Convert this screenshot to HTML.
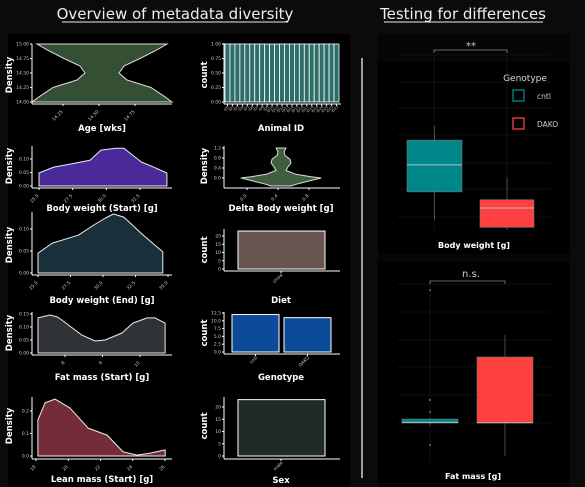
<!DOCTYPE html>
<html><head><meta charset="utf-8">
<style>
html,body{margin:0;padding:0;background:#0b0b0b;width:585px;height:487px;overflow:hidden}
svg{display:block}
text{font-family:"DejaVu Sans","Liberation Sans",sans-serif}
</style></head>
<body>
<svg id="root" width="585" height="487" viewBox="0 0 585 487" xmlns="http://www.w3.org/2000/svg">
<rect x="0" y="0" width="585" height="487" fill="#0b0b0b"/>
<rect x="8" y="34" width="342" height="453" fill="#000"/>
<rect x="378" y="34" width="192" height="453" fill="#050505"/>
<rect x="378" y="62" width="192" height="192" fill="#000"/>
<rect x="378" y="262" width="192" height="220" fill="#000"/>
<line x1="362" y1="58" x2="362" y2="478" stroke="#fff" stroke-width="1.2"/>
<text x="175" y="19" fill="#eee" font-size="15" text-anchor="middle">Overview of metadata diversity</text>
<line x1="62" y1="22" x2="288" y2="22" stroke="#eee" stroke-width="1"/>
<text x="463" y="19" fill="#eee" font-size="15" text-anchor="middle">Testing for differences</text>
<line x1="384" y1="22" x2="543" y2="22" stroke="#eee" stroke-width="1"/>
</svg>
<script>
// ---------- data ----------
const ageValues=[15,14.9,14.75,14.62,14.5,14.38,14.25,14.1,14.0];
const ageHalfWidth=[65,55,38,22,17,25,49,62,70];
const ageTicksY=["14.00","14.25","14.50","14.75","15.00"];
const ageTicksX=["14.25","14.50","14.75"];
const animalCounts=[1,1,1,1,1,1,1,1,1,1,1,1,1,1,1,1,1,1,1,1,1,1,1];
const bwStartX=[25,26.1,27.7,28.8,29.6,30.7,31.3,32.6,33.5,34.5];
const bwStartD=[0.048,0.07,0.085,0.096,0.133,0.14,0.14,0.089,0.07,0.048];
const bwEndX=[25,26.1,28.1,29.3,30.2,30.8,31.6,33.1,34.6];
const bwEndD=[0.045,0.068,0.086,0.109,0.125,0.134,0.127,0.086,0.048];
const deltaValues=[1.2,1.05,0.9,0.75,0.6,0.45,0.3,0.15,0.05,0.0,-0.1,-0.25,-0.32];
const deltaHalf=[5,3,4,9,10,7,5,15,30,40,30,15,10];
const dietCounts=[23];
const fatX=[7.28,7.6,7.81,8.45,8.8,9.07,9.52,9.81,10.19,10.4,10.67];
const fatD=[0.135,0.146,0.138,0.069,0.046,0.05,0.077,0.115,0.135,0.135,0.115];
const genoCats=["cntl","DAKO"];
const genoCounts=[12,11];
const leanX=[18.12,18.56,19.18,20.11,21.23,22.41,23.4,24.27,25.08,26.01];
const leanD=[0.16,0.236,0.253,0.213,0.124,0.093,0.018,0.004,0.013,0.027];
const sexCounts=[23];
// box stats: [low, q1, median, q3, high]
const bwBoxCntl=[25,27.5,29.9,32.1,33.4];
const bwBoxDako=[24.1,24.35,26.07,26.8,28.8];
const fatBoxCntl=[6.45,6.59,6.62,6.78,6.85];
const fatBoxDako=[5,6.6,6.6,9.77,10.83];
const fatOutliersCntl=[13,7.7,7.12,5.53];

const NS="http://www.w3.org/2000/svg";
const root=document.getElementById('root');
function mk(tag,attrs,name,parent){
  const el=document.createElementNS(NS,tag);
  for(const k in attrs) el.setAttribute(k,attrs[k]);
  
  
  (parent||root).appendChild(el);
  return el;
}
function txt(x,y,s,size,name,opts){
  opts=opts||{};
  const t=mk('text',{x:x,y:y,fill:opts.fill||'#fff','font-size':size,'text-anchor':opts.anchor||'middle','font-weight':opts.weight||'normal'},name);
  if(opts.rot!==undefined) t.setAttribute('transform','rotate('+opts.rot+' '+x+' '+y+')');
  t.textContent=s;return t;
}
function lin(a,b,c,d,name,col,w){return mk('line',{x1:a,y1:b,x2:c,y2:d,stroke:col||'#fff','stroke-width':w||1},name);}
function axesL(x0,y0,x1,y1,name){lin(x0,y0,x0,y1,name+'-y-axis');lin(x0,y1,x1,y1,name+'-x-axis');}
function yTicks(x0,labels,scale,vals,name){
  labels.forEach((l,i)=>{const y=scale(vals[i]);lin(x0-2,y,x0,y,name+'-ytick');txt(x0-3,y+1.5,l,4.5,name+'-ytick-label',{anchor:'end',fill:'#ccc'});});
}
function xTicks(y0,labels,scale,vals,name){
  labels.forEach((l,i)=>{const x=scale(vals[i]);lin(x,y0,x,y0+2,name+'-xtick');txt(x,y0+8,l,4.5,name+'-xtick-label',{anchor:'end',fill:'#ccc',rot:-45});});
}
function lsc(d0,d1,r0,r1){return v=>r0+(v-d0)/(d1-d0)*(r1-r0);}
function density(xs,ds,sx,sy,fill,name){
  let p='M'+sx(xs[0])+','+sy(0);
  xs.forEach((x,i)=>{p+=' L'+sx(x).toFixed(1)+','+sy(ds[i]).toFixed(1);});
  p+=' L'+sx(xs[xs.length-1])+','+sy(0)+' Z';
  mk('path',{d:p,fill:fill,stroke:'#eee','stroke-width':1,'stroke-linejoin':'round'},name);
}

// ---- Age violin ----
{const sy=lsc(14,15,102,44);const cx=102;
 let L='',R='';ageValues.forEach((v,i)=>{L+=(i?' L':'M')+(cx-ageHalfWidth[i])+','+sy(v).toFixed(1);});
 for(let i=ageValues.length-1;i>=0;i--)R+=' L'+(cx+ageHalfWidth[i])+','+sy(ageValues[i]).toFixed(1);
 mk('path',{d:L+R+' Z',fill:'#344f33',stroke:'#ddd','stroke-width':1},'age-violin');
 axesL(32,44,172,104,'age');
 yTicks(32,ageTicksY,sy,[14,14.25,14.5,14.75,15],'age');
 const sx=lsc(14.25,14.75,63,135);xTicks(104,ageTicksX,sx,[14.25,14.5,14.75],'age');
 txt(102,131,'Age [wks]',8.5,'age-x-title',{weight:'bold'});
 txt(12,75,'Density',8.5,'age-y-title',{rot:-90,weight:'bold'});}

// ---- Animal ID bars ----
{const sy=lsc(0,1,102,44);const x0=225,x1=339;const bw=(x1-x0)/animalCounts.length;
 animalCounts.forEach((c,i)=>{mk('rect',{x:x0+i*bw,y:sy(c),width:bw,height:sy(0)-sy(c),fill:'#2e6e68',stroke:'#fff','stroke-width':0.8},'animal-bar');
   lin(x0+(i+.5)*bw,104,x0+(i+.5)*bw,106,'animal-xtick');
   txt(x0+(i+.5)*bw+2,107,'ID'+(i+1),3.5,'animal-xtick-label',{anchor:'end',fill:'#ccc',rot:-45});});
 axesL(224,43,341,104,'animal');
 yTicks(224,["0.00","0.25","0.50","0.75","1.00"],sy,[0,0.25,0.5,0.75,1],'animal');
 txt(281,131,'Animal ID',8.5,'animal-x-title',{weight:'bold'});
 txt(207,75,'count',8.5,'animal-y-title',{rot:-90,weight:'bold'});}

// ---- Body weight start ----
{const sx=lsc(25,32.5,39,140),sy=lsc(0,0.1,186,159);
 density(bwStartX,bwStartD,sx,sy,'#4a2a9a','bw-start-density');
 axesL(32,146,172,188,'bw-start');
 yTicks(32,["0.00","0.05","0.10"],sy,[0,0.05,0.1],'bw-start');
 xTicks(188,["25.0","27.5","30.0","32.5"],sx,[25,27.5,30,32.5],'bw-start');
 txt(102,211,'Body weight (Start) [g]',8.5,'bw-start-x-title',{weight:'bold'});
 txt(12,166,'Density',8.5,'bw-start-y-title',{rot:-90,weight:'bold'});}

// ---- Delta violin ----
{const sy=lsc(0,1.2,178,148);const cx=281;
 let L='',R='';deltaValues.forEach((v,i)=>{L+=(i?' L':'M')+(cx-deltaHalf[i])+','+sy(v).toFixed(1);});
 for(let i=deltaValues.length-1;i>=0;i--)R+=' L'+(cx+deltaHalf[i])+','+sy(deltaValues[i]).toFixed(1);
 mk('path',{d:L+R+' Z',fill:'#3f5e3f',stroke:'#ddd','stroke-width':1,'stroke-linejoin':'round'},'delta-violin');
 axesL(224,146,340,188,'delta');
 yTicks(224,["0.0","0.4","0.8","1.2"],sy,[0,0.4,0.8,1.2],'delta');
 const sx=lsc(0,0.8,247,309);xTicks(188,["0.0","0.4","0.8"],sx,[0,0.4,0.8],'delta');
 txt(281,211,'Delta Body weight [g]',8.5,'delta-x-title',{weight:'bold'});
 txt(207,166,'Density',8.5,'delta-y-title',{rot:-90,weight:'bold'});}

// ---- Body weight end ----
{const sx=lsc(25,35,38,168),sy=lsc(0,0.1,273,229);
 density(bwEndX,bwEndD,sx,sy,'#19303a','bw-end-density');
 axesL(32,212,172,275,'bw-end');
 yTicks(32,["0.00","0.05","0.10"],sy,[0,0.05,0.1],'bw-end');
 xTicks(275,["25.0","27.5","30.0","32.5","35.0"],sx,[25,27.5,30,32.5,35],'bw-end');
 txt(102,303,'Body weight (End) [g]',8.5,'bw-end-x-title',{weight:'bold'});
 txt(12,245,'Density',8.5,'bw-end-y-title',{rot:-90,weight:'bold'});}

// ---- Diet ----
{const sy=lsc(0,20,269,236);
 dietCounts.forEach((c,i)=>mk('rect',{x:238,y:sy(c),width:87,height:sy(0)-sy(c),fill:'#6a5450',stroke:'#fff','stroke-width':1},'diet-bar'));
 axesL(224,229,340,271,'diet');
 yTicks(224,["0","5","10","15","20"],sy,[0,5,10,15,20],'diet');
 lin(281,271,281,273,'diet-xtick');txt(283,275,'chow',4.5,'diet-xtick-label',{anchor:'end',fill:'#ccc',rot:-45});
 txt(281,303,'Diet',8.5,'diet-x-title',{weight:'bold'});
 txt(207,250,'count',8.5,'diet-y-title',{rot:-90,weight:'bold'});}

// ---- Fat mass start ----
{const sx=lsc(8,10,65,140),sy=lsc(0,0.15,353,314);
 density(fatX,fatD,sx,sy,'#303335','fat-start-density');
 axesL(32,312,172,355,'fat-start');
 yTicks(32,["0.00","0.05","0.10","0.15"],sy,[0,0.05,0.1,0.15],'fat-start');
 xTicks(355,["8","9","10"],sx,[8,9,10],'fat-start');
 txt(102,380,'Fat mass (Start) [g]',8.5,'fat-start-x-title',{weight:'bold'});
 txt(12,333,'Density',8.5,'fat-start-y-title',{rot:-90,weight:'bold'});}

// ---- Genotype ----
{const sy=lsc(0,12.5,352,313);
 genoCounts.forEach((c,i)=>{const x=232+i*52;mk('rect',{x:x,y:sy(c),width:47,height:sy(0)-sy(c),fill:'#0c4a9a',stroke:'#fff','stroke-width':1},'genotype-bar-'+genoCats[i]);
   lin(x+23.5,354,x+23.5,356,'genotype-xtick');txt(x+25.5,358,genoCats[i],4.5,'genotype-xtick-label',{anchor:'end',fill:'#ccc',rot:-45});});
 axesL(224,312,340,354,'genotype');
 yTicks(224,["0.0","2.5","5.0","7.5","10.0","12.5"],sy,[0,2.5,5,7.5,10,12.5],'genotype');
 txt(281,380,'Genotype',8.5,'genotype-x-title',{weight:'bold'});
 txt(207,333,'count',8.5,'genotype-y-title',{rot:-90,weight:'bold'});}

// ---- Lean mass ----
{const sx=lsc(18,26,36,165),sy=lsc(0,0.2,456,411);
 density(leanX,leanD,sx,sy,'#742c3a','lean-density');
 axesL(32,397,172,459,'lean');
 yTicks(32,["0.0","0.1","0.2"],sy,[0,0.1,0.2],'lean');
 xTicks(459,["18","20","22","24","26"],sx,[18,20,22,24,26],'lean');
 txt(102,482,'Lean mass (Start) [g]',8.5,'lean-x-title',{weight:'bold'});
 txt(12,426,'Density',8.5,'lean-y-title',{rot:-90,weight:'bold'});}

// ---- Sex ----
{const sy=lsc(0,20,456,407);
 sexCounts.forEach(c=>mk('rect',{x:238,y:sy(c),width:87,height:sy(0)-sy(c),fill:'#1e2b26',stroke:'#fff','stroke-width':1},'sex-bar'));
 axesL(224,397,340,459,'sex');
 yTicks(224,["0","5","10","15","20"],sy,[0,5,10,15,20],'sex');
 lin(281,459,281,461,'sex-xtick');txt(283,463,'male',4.5,'sex-xtick-label',{anchor:'end',fill:'#ccc',rot:-45});
 txt(281,483,'Sex',8.5,'sex-x-title',{weight:'bold'});
 txt(207,426,'count',8.5,'sex-y-title',{rot:-90,weight:'bold'});}

// ---- Box plots ----
function box(st,x0,w,sy,fill,name){
  const cx=x0+w/2;
  lin(cx,sy(st[0]),cx,sy(st[1]),name+'-whisker-low','#777',0.6);
  lin(cx,sy(st[3]),cx,sy(st[4]),name+'-whisker-high','#777',0.6);
  mk('rect',{x:x0,y:sy(st[3]),width:w,height:Math.max(1,sy(st[1])-sy(st[3])),fill:fill,stroke:'#777','stroke-width':0.6},name+'-box');
  lin(x0,sy(st[2]),x0+w,sy(st[2]),name+'-median','#bbb',1);
}
{const sy=lsc(25,33,220,130);
 [55,82,108,135,163,189,217].forEach(y=>lin(397,y,550,y,'bw-gridline','#1c1c1c',0.6));
 [434,507].forEach(x=>lin(x,55,x,230,'bw-vgridline','#1c1c1c',0.6));
 box(bwBoxCntl,407,55,sy,'#00878a','bw-box-cntl');
 box(bwBoxDako,480,54,sy,'#ff4040','bw-box-dako');
 mk('path',{d:'M434,53 L434,50 L507,50 L507,53',fill:'none',stroke:'#888','stroke-width':0.8},'bw-significance-bracket');
 txt(471,49,'**',10,'bw-significance-label',{fill:'#ccc'});
 txt(474,248,'Body weight [g]',8,'bw-box-title',{weight:'bold'});
 txt(525,81,'Genotype',9,'legend-title',{fill:'#ddd'});
 mk('rect',{x:513,y:90,width:11,height:11,fill:'none',stroke:'#00878a','stroke-width':1.3},'legend-swatch-cntl');
 mk('rect',{x:513,y:118,width:11,height:11,fill:'none',stroke:'#ff4040','stroke-width':1.3},'legend-swatch-dako');
 txt(537,99,'cntl',7.5,'legend-label-cntl',{anchor:'start',fill:'#ccc'});
 txt(537,127,'DAKO',7.5,'legend-label-dako',{anchor:'start',fill:'#ccc'});}
{const sy=lsc(5,13,456,290);
 [284,312,340,367,395,423].forEach(y=>lin(397,y,550,y,'fat-gridline','#1c1c1c',0.6));
 lin(430,284,430,462,'fat-vgridline','#1c1c1c',0.6);
 box(fatBoxCntl,402,56,sy,'#00878a','fat-box-cntl');
 box(fatBoxDako,477,56,sy,'#ff4040','fat-box-dako');
 fatOutliersCntl.forEach(v=>mk('circle',{cx:430,cy:sy(v),r:0.8,fill:'#aaa'},'fat-outlier-cntl'));
 mk('path',{d:'M430,284 L430,281 L505,281 L505,284',fill:'none',stroke:'#888','stroke-width':0.8},'fat-significance-bracket');
 txt(471,277,'n.s.',10,'fat-significance-label',{fill:'#ccc'});
 txt(473,479,'Fat mass [g]',8,'fat-box-title',{weight:'bold'});}
</script>
</body></html>
